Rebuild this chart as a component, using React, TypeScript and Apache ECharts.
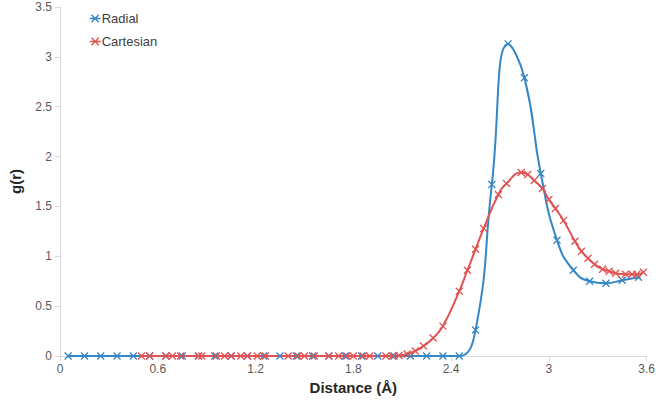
import React, { useEffect, useRef } from "react";
import * as echarts from "echarts";

const radialX = [0.05, 0.15, 0.25, 0.35, 0.45, 0.55, 0.65, 0.75, 0.85, 0.95, 1.05, 1.15, 1.25, 1.35, 1.45, 1.55, 1.65, 1.75, 1.85, 1.95, 2.05, 2.15, 2.25, 2.35, 2.45, 2.55, 2.65, 2.75, 2.85, 2.95, 3.05, 3.15, 3.25, 3.35, 3.45, 3.55];
const radialY = [0, 0, 0, 0, 0, 0, 0, 0, 0, 0, 0, 0, 0, 0, 0, 0, 0, 0, 0, 0, 0, 0, 0, 0, 0, 0.26, 1.72, 3.13, 2.79, 1.83, 1.16, 0.86, 0.75, 0.73, 0.76, 0.79];

const cartesianX = [0.5, 0.55, 0.65, 0.69, 0.74, 0.85, 0.87, 0.96, 1.01, 1.05, 1.11, 1.15, 1.21, 1.26, 1.4, 1.46, 1.5, 1.56, 1.65, 1.71, 1.76, 1.8, 1.86, 1.9, 2.0, 2.04, 2.08, 2.13, 2.18, 2.23, 2.29, 2.35, 2.45, 2.5, 2.55, 2.6, 2.69, 2.74, 2.83, 2.87, 2.91, 2.96, 3.0, 3.04, 3.09, 3.16, 3.2, 3.24, 3.28, 3.33, 3.37, 3.41, 3.47, 3.51, 3.54, 3.58];
const cartesianY = [0, 0, 0, 0, 0, 0, 0, 0, 0, 0, 0, 0, 0, 0, 0, 0, 0, 0, 0, 0, 0, 0, 0, 0, 0, 0, 0.005, 0.02, 0.05, 0.1, 0.18, 0.3, 0.65, 0.86, 1.07, 1.28, 1.62, 1.73, 1.84, 1.82, 1.76, 1.68, 1.57, 1.48, 1.36, 1.15, 1.05, 0.98, 0.92, 0.87, 0.85, 0.83, 0.82, 0.82, 0.82, 0.84];

const seriesNames = ["Radial", "Cartesian"];
const colors = ["#3486c6", "#e15252"];

const FONT = "Liberation Sans, Arial, sans-serif";
const crossSymbol = "path://M0,0L10,10M10,0L0,10";
const legendIcon = "path://M0,5L12,5M2,1L10,9M10,1L2,9";

function pairs(xs: number[], ys: number[]) {
  return xs.map((x, i) => [x, ys[i]]);
}

export default function App() {
  const ref = useRef<HTMLDivElement>(null);
  useEffect(() => {
    if (!ref.current) return;
    const chart = echarts.init(ref.current, undefined, { renderer: "svg" });
    const fmt = (v: number) => String(Math.round(v * 10) / 10);
    const mk = (i: number, xs: number[], ys: number[]) => ({
      name: seriesNames[i],
      type: "line",
      data: pairs(xs, ys),
      smooth: 0.5,
      symbol: crossSymbol,
      symbolSize: 7,
      showSymbol: true,
      color: colors[i],
      lineStyle: { color: colors[i], width: 2 },
      itemStyle: { color: colors[i], borderColor: colors[i], borderWidth: 1.3 },
      clip: true,
    });
    chart.setOption({
      animation: false,
      textStyle: { fontFamily: FONT },
      grid: { left: 53, right: 10, top: 7, bottom: 44, containLabel: false },
      legend: {
        orient: "vertical",
        left: 84,
        top: 7,
        itemGap: 10,
        itemWidth: 11,
        itemHeight: 9,
        icon: legendIcon,
        itemStyle: { borderWidth: 1.3 },
        textStyle: { fontSize: 13, color: "#404040", fontFamily: FONT, padding: [0, 0, 0, -4] },
        data: seriesNames,
      },
      xAxis: {
        type: "value",
        min: 0,
        max: 3.6,
        interval: 0.6,
        name: "Distance (Å)",
        nameLocation: "middle",
        nameGap: 23,
        nameTextStyle: { fontSize: 15, fontWeight: "bold", color: "#262626", fontFamily: FONT },
        axisLine: { show: true, lineStyle: { color: "#d9d9d9", width: 1 } },
        axisTick: { show: true, length: 5, lineStyle: { color: "#d9d9d9" } },
        axisLabel: { fontSize: 12, color: "#595959", margin: 7, formatter: fmt, fontFamily: FONT },
        splitLine: { show: false },
      },
      yAxis: {
        type: "value",
        min: 0,
        max: 3.5,
        interval: 0.5,
        name: "g(r)",
        nameLocation: "middle",
        nameGap: 37,
        nameRotate: 90,
        nameTextStyle: { fontSize: 15, fontWeight: "bold", color: "#262626", fontFamily: FONT },
        axisLine: { show: true, lineStyle: { color: "#d9d9d9", width: 1 } },
        axisTick: { show: true, length: 5, lineStyle: { color: "#d9d9d9" } },
        axisLabel: { fontSize: 12, color: "#595959", margin: 8, formatter: fmt, fontFamily: FONT },
        splitLine: { show: false },
      },
      series: [mk(0, radialX, radialY), mk(1, cartesianX, cartesianY)],
    });
    return () => chart.dispose();
  }, []);
  return <div ref={ref} style={{ width: 658, height: 400, position: "absolute", left: 0, top: 0 }} />;
}
